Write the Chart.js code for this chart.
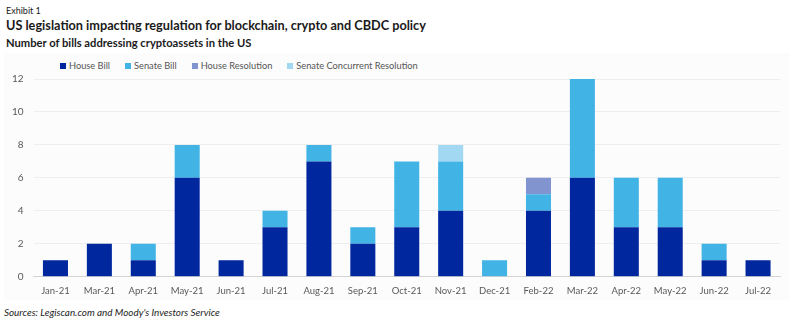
<!DOCTYPE html>
<html>
<head>
<meta charset="utf-8">
<script src="https://cdn.jsdelivr.net/npm/chart.js@4/dist/chart.umd.min.js"></script>
<style>
  html, body { margin: 0; padding: 0; background: #ffffff; }
  body { width: 799px; height: 327px; position: relative; overflow: hidden; font-family: Lato, "Noto Sans", sans-serif; }
  .t { position: absolute; white-space: nowrap; color: #1a1a1a; }
  #exhibit { left: 6px; top: 5px; font-size: 9px; }
  #title { left: 6px; top: 17px; font-size: 12.7px; font-weight: bold; }
  #subtitle { left: 6px; top: 36px; font-size: 11.2px; font-weight: bold; }
  #panel { position: absolute; left: 4px; top: 53px; width: 786px; height: 247px; background: #fcfcfc; }
  #legend { position: absolute; left: 60px; top: 60px; font-size: 9.25px; color: #555; display: flex; }
  #legend span.item { display: flex; align-items: center; margin-right: 15px; }
  #legend span.box { display: inline-block; width: 6px; height: 6px; margin-right: 3px; }
  #wrap { position: absolute; left: 0; top: 60px; width: 799px; height: 240px; }
  #source { left: 4px; top: 306px; font-size: 9.9px; font-style: italic; color: #222; }
</style>
</head>
<body>
<div class="t" id="exhibit">Exhibit 1</div>
<div class="t" id="title">US legislation impacting regulation for blockchain, crypto and CBDC policy</div>
<div class="t" id="subtitle">Number of bills addressing cryptoassets in the US</div>
<div id="panel"></div>
<div id="legend"></div>
<div id="wrap"><canvas id="chart"></canvas></div>
<div class="t" id="source">Sources: Legiscan.com and Moody's Investors Service</div>
<script>
// Months with at least one bill introduced
const months = ['Jan-21','Mar-21','Apr-21','May-21','Jun-21','Jul-21','Aug-21','Sep-21','Oct-21','Nov-21','Dec-21','Feb-22','Mar-22','Apr-22','May-22','Jun-22','Jul-22'];

// Bill counts by type
const houseBill               = [1, 2, 1, 6, 1, 3, 7, 2, 3, 4, 0, 4, 6, 3, 3, 1, 1];
const senateBill              = [0, 0, 1, 2, 0, 1, 1, 1, 4, 3, 1, 1, 6, 3, 3, 1, 0];
const houseResolution         = [0, 0, 0, 0, 0, 0, 0, 0, 0, 0, 0, 1, 0, 0, 0, 0, 0];
const senateConcurrentResolution = [0, 0, 0, 0, 0, 0, 0, 0, 0, 1, 0, 0, 0, 0, 0, 0, 0];

const yTicks = [0, 2, 4, 6, 8, 10, 12];

const seriesNames = ['House Bill', 'Senate Bill', 'House Resolution', 'Senate Concurrent Resolution'];
const seriesColors = ['#00279e', '#41b4e5', '#8294cf', '#a2d8f2'];
const seriesValues = [houseBill, senateBill, houseResolution, senateConcurrentResolution];

const datasets = seriesNames.map((name, i) => ({
  label: name,
  data: seriesValues[i],
  backgroundColor: seriesColors[i],
  borderWidth: 0,
  categoryPercentage: 1,
  barPercentage: 0.57
}));

const chart = new Chart(document.getElementById('chart'), {
  type: 'bar',
  data: { labels: months, datasets },
  options: {
    responsive: true,
    maintainAspectRatio: false,
    animation: false,
    layout: { padding: { left: 0, right: 19, top: 19, bottom: 0 } },
    plugins: { legend: { display: false }, tooltip: { enabled: false } },
    scales: {
      x: {
        stacked: true,
        grid: { display: false, drawTicks: false },
        border: { display: true, color: '#d4d4d4', width: 1 },
        ticks: { color: '#595959', font: { family: 'Lato', size: 9.5 }, padding: 9, maxRotation: 0, autoSkip: false },
        afterFit: s => { s.height = 23.3; }
      },
      y: {
        stacked: true,
        min: 0, max: 12,
        afterBuildTicks: s => { s.ticks = yTicks.map(v => ({ value: v })); },
        grid: { color: '#eeeeee', drawTicks: false, lineWidth: 1 },
        border: { display: false },
        ticks: { color: '#595959', font: { family: 'Lato', size: 10 }, padding: 10 },
        afterFit: s => { s.width = 33.5; }
      }
    }
  }
});

// Legend built from the chart's own datasets
const legendEl = document.getElementById('legend');
chart.data.datasets.forEach(ds => {
  const item = document.createElement('span');
  item.className = 'item';
  const box = document.createElement('span');
  box.className = 'box';
  box.style.background = ds.backgroundColor;
  item.appendChild(box);
  item.appendChild(document.createTextNode(ds.label));
  legendEl.appendChild(item);
});
</script>
</body>
</html>
